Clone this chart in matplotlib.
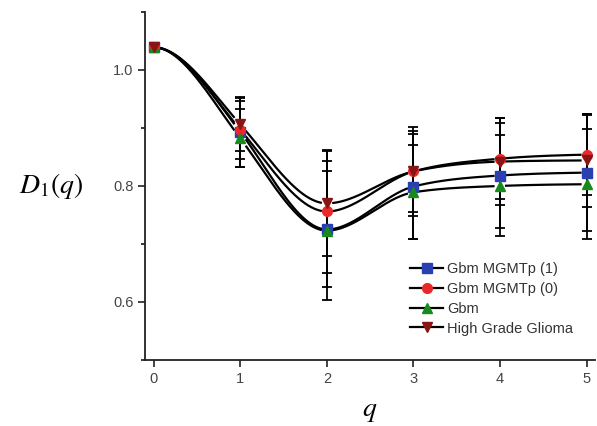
import numpy as np
import matplotlib
matplotlib.use("Agg")
import matplotlib.pyplot as plt
from matplotlib.ticker import MultipleLocator

q = [0, 1, 2, 3, 4, 5]
series_names = ["Gbm MGMTp (1)", "Gbm MGMTp (0)", "Gbm", "High Grade Glioma"]
mgmt1 = [1.039, 0.893, 0.725, 0.799, 0.818, 0.823]
mgmt0 = [1.039, 0.897, 0.756, 0.825, 0.847, 0.854]
gbm = [1.039, 0.882, 0.723, 0.789, 0.800, 0.803]
hgg = [1.039, 0.906, 0.770, 0.825, 0.842, 0.844]
err_mgmt1 = [0.005, 0.060, 0.100, 0.090, 0.090, 0.100]
err_mgmt0 = [0.005, 0.050, 0.106, 0.077, 0.070, 0.070]
err_gbm = [0.005, 0.050, 0.120, 0.081, 0.087, 0.095]
err_hgg = [0.005, 0.045, 0.090, 0.070, 0.075, 0.080]

values = [mgmt1, mgmt0, gbm, hgg]
errors = [err_mgmt1, err_mgmt0, err_gbm, err_hgg]
markers = ["s", "o", "^", "v"]
colors = ["#2a3fb0", "#e8282a", "#178a1e", "#8a1414"]


def smooth_curve(x, y, xs):
    """Hermite curve through the points: monotone slopes inside, flat start."""
    x = np.asarray(x, float)
    y = np.asarray(y, float)
    h = np.diff(x)
    delta = np.diff(y) / h
    n = len(x)
    d = np.zeros(n)
    for k in range(1, n - 1):
        if delta[k - 1] * delta[k] > 0:
            d[k] = 1.25 * 2 / (1 / delta[k - 1] + 1 / delta[k])
    d[0] = 0.0
    d[-1] = 0.5 * delta[-1]
    out = np.empty_like(xs)
    for j, xv in enumerate(xs):
        i = min(max(np.searchsorted(x, xv) - 1, 0), n - 2)
        t = (xv - x[i]) / h[i]
        h00 = 2 * t**3 - 3 * t**2 + 1
        h10 = t**3 - 2 * t**2 + t
        h01 = -2 * t**3 + 3 * t**2
        h11 = t**3 - t**2
        out[j] = h00 * y[i] + h10 * h[i] * d[i] + h01 * y[i + 1] + h11 * h[i] * d[i + 1]
    return out


plt.rcParams["font.family"] = ["Liberation Sans", "DejaVu Sans"]
plt.rcParams["mathtext.fontset"] = "stix"
fig = plt.figure(figsize=(5.97, 4.26), dpi=100)
ax = fig.add_axes([0.243, 0.155, 0.754, 0.817])

xs = np.linspace(0, 5, 1001)
gap = 0.07
for vals, errs, m, col, name in zip(values, errors, markers, colors, series_names):
    ys = smooth_curve(q, vals, xs)
    mask = np.ones_like(xs, dtype=bool)
    for xi in q:
        mask &= np.abs(xs - xi) > gap
    ys_plot = np.where(mask, ys, np.nan)
    ax.plot(xs, ys_plot, color="black", lw=1.6, zorder=2)
    ax.errorbar(q, vals, yerr=errs, fmt="none", ecolor="black", elinewidth=1.3,
                capsize=3.5, capthick=1.3, zorder=3)
    ax.plot(q, vals, linestyle="none", marker=m, markersize=7, markerfacecolor=col,
            markeredgecolor=col, zorder=4)
    ax.plot([], [], color="black", lw=1.6, marker=m, markersize=7,
            markerfacecolor=col, markeredgecolor=col, label=name)

ax.set_xlim(-0.1, 5.1)
ax.set_ylim(0.5, 1.1)
ax.set_xticks(q)
ax.yaxis.set_minor_locator(MultipleLocator(0.1))
ax.set_yticks([0.6, 0.8, 1.0])
ax.set_yticklabels(["0.6", "0.8", "1.0"])
ax.spines["top"].set_visible(False)
ax.spines["right"].set_visible(False)
for s in ["left", "bottom"]:
    ax.spines[s].set_linewidth(1.3)
    ax.spines[s].set_color("#222222")
ax.tick_params(axis="both", which="major", direction="out", length=5, width=1.2,
               labelsize=10.5, colors="#222222", labelcolor="#444444")
ax.tick_params(axis="y", which="minor", direction="out", length=3, width=1.1)

fig.text(0.085, 0.563, r"$D_1(q)$", fontsize=20, ha="center", va="center")
fig.text(0.62, 0.035, r"$q$", fontsize=20, ha="center", va="center")

leg = ax.legend(loc="lower right", bbox_to_anchor=(0.97, 0.045), frameon=False,
                fontsize=10.5, handlelength=2.2, handletextpad=0.3, labelspacing=0.4,
                borderaxespad=0.2)
for t in leg.get_texts():
    t.set_color("#333333")

fig.savefig("out.png", dpi=100)
